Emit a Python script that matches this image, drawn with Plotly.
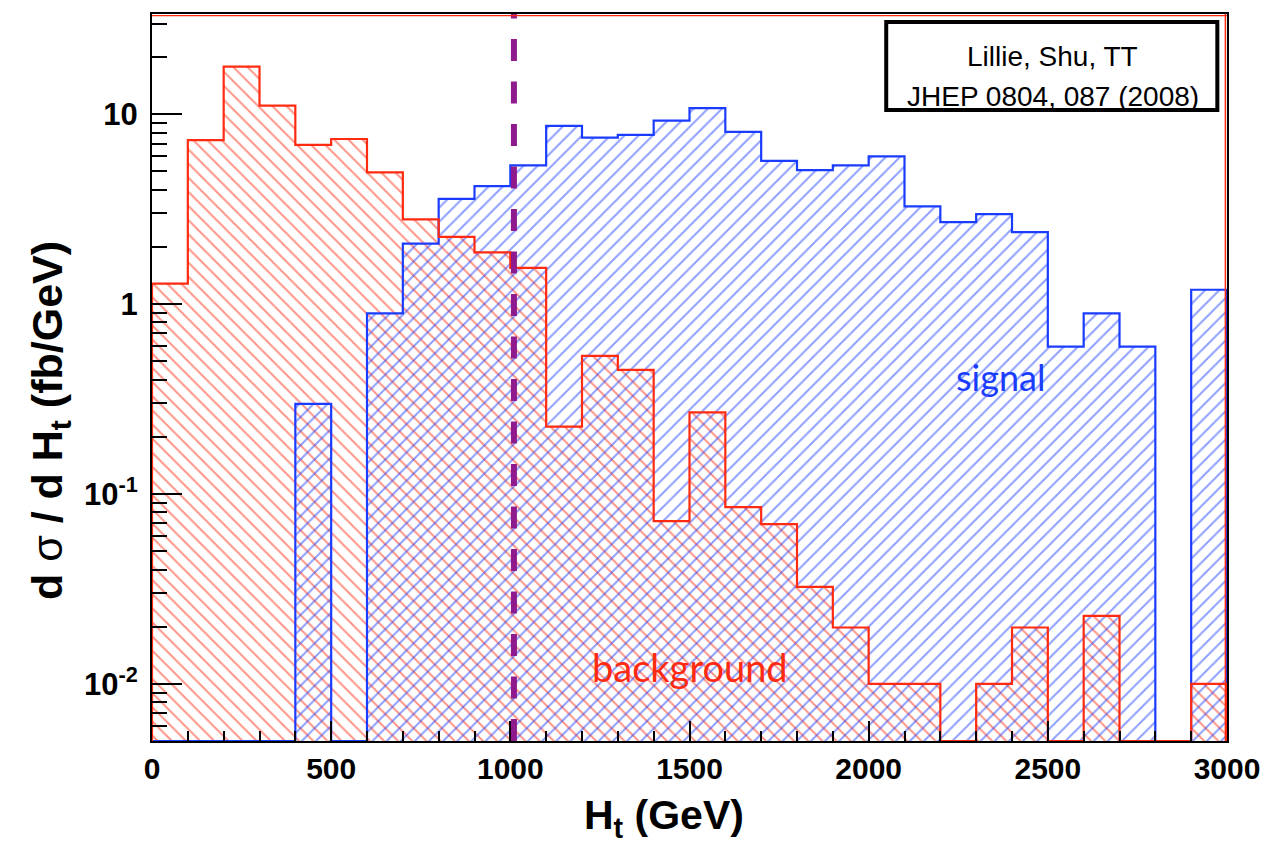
import math
import plotly.graph_objects as go

# H_t histogram, 100 GeV bins from 0 to 3000 GeV
bin_width = 100
bin_lo = list(range(0, 3000, bin_width))

background = [1.28, 7.3, 17.8, 11.1, 6.9, 7.4, 4.94, 2.79, 2.26, 1.87,
              1.55, 0.226, 0.533, 0.45, 0.072, 0.269, 0.0853, 0.0693, 0.0324, 0.0198,
              0.0100, 0.0100, 0, 0.0100, 0.0198, 0, 0.0228, 0, 0, 0.0100]
signal = [0, 0, 0, 0, 0.298, 0, 0.894, 2.08, 3.58, 4.18,
          5.38, 8.68, 7.53, 7.78, 9.25, 10.75, 8.07, 5.68, 5.07, 5.38,
          5.99, 3.27, 2.70, 2.98, 2.39, 0.597, 0.894, 0.597, 0, 1.19]

cut_ht = 1010
y_min, y_max = 0.005, 33.7

x_ticks = [0, 500, 1000, 1500, 2000, 2500, 3000]
y_ticks = [0.01, 0.1, 1, 10]
y_ticktext = ["10<sup>-2</sup>", "10<sup>-1</sup>", "1", "10"]

RED = "#ff2a10"
BLUE = "#1a3cff"
PURPLE = "#8e1a8e"
FONT = "Liberation Sans"


def outline(values):
    xs, ys = [bin_lo[0]], [y_min]
    for lo, v in zip(bin_lo, values):
        h = v if v > 0 else y_min
        xs += [lo, lo + bin_width]
        ys += [h, h]
    xs.append(bin_lo[-1] + bin_width)
    ys.append(y_min)
    return xs, ys


centers = [lo + bin_width / 2 for lo in bin_lo]
fig = go.Figure()

for vals, color, shape in [(background, RED, "\\"), (signal, BLUE, "/")]:
    fig.add_trace(go.Bar(
        x=centers, y=[v if v > 0 else None for v in vals], width=bin_width,
        marker=dict(color="rgba(0,0,0,0)", line=dict(width=0),
                    pattern=dict(shape=shape, fgcolor=color, bgcolor="rgba(0,0,0,0)",
                                 size=10, solidity=0.2)),
        hoverinfo="skip", showlegend=False))

for vals, color in [(signal, BLUE), (background, RED)]:
    xs, ys = outline(vals)
    fig.add_trace(go.Scatter(x=xs, y=ys, mode="lines", line=dict(color=color, width=2.2),
                             hoverinfo="skip", showlegend=False))

minor_y = [k * 10 ** d for d in range(-3, 2) for k in range(2, 10)
           if y_min <= k * 10 ** d <= y_max]

fig.update_layout(
    width=1266, height=842,
    margin=dict(l=152, r=39, t=14, b=101),
    paper_bgcolor="white", plot_bgcolor="white",
    barmode="overlay", bargap=0,
    font=dict(family=FONT, color="black"),
)
fig.update_xaxes(
    range=[0, 3000], showgrid=False, zeroline=False, automargin=False,
    ticklabeloverflow="allow",
    showline=True, linecolor="black", linewidth=2, mirror=True,
    tickmode="array", tickvals=x_ticks, ticks="inside", ticklen=20, tickwidth=2,
    tickcolor="black",
    tickfont=dict(family=FONT, size=30, weight="bold", color="black"),
    minor=dict(ticks="inside", dtick=100, ticklen=10, tickwidth=2, tickcolor="black"),
)
fig.update_yaxes(
    type="log", range=[math.log10(y_min), math.log10(y_max)],
    showgrid=False, zeroline=False, automargin=False,
    showline=True, linecolor="black", linewidth=2, mirror=True,
    tickmode="array", tickvals=y_ticks, ticktext=y_ticktext,
    ticks="inside", ticklen=30, tickwidth=2, tickcolor="black",
    ticklabelstandoff=6,
    tickfont=dict(family=FONT, size=31, weight="bold", color="black"),
    minor=dict(ticks="inside", tickvals=minor_y, ticklen=15, tickwidth=2, tickcolor="black"),
)

# cut line
fig.add_shape(type="line", xref="x", yref="paper", x0=cut_ht, x1=cut_ht, y0=0, y1=1,
              line=dict(color=PURPLE, width=6, dash="22px,20.5px"))
# thin red inner frame on top and right, as in the original
fig.add_shape(type="line", xref="paper", yref="paper", x0=0, x1=1, y0=0.9978, y1=0.9978,
              line=dict(color=RED, width=1.2))
fig.add_shape(type="line", xref="paper", yref="paper", x0=0.9985, x1=0.9985, y0=0, y1=1,
              line=dict(color=RED, width=1.5))

# reference box
fig.add_shape(type="rect", xref="paper", yref="paper", x0=0.683, x1=0.991, y0=0.868, y1=0.989,
              line=dict(color="black", width=4), fillcolor="white")
fig.add_annotation(xref="paper", yref="paper", x=0.838, y=0.941, xanchor="center",
                   yanchor="middle", text="Lillie, Shu, TT", showarrow=False,
                   font=dict(family=FONT, size=28, color="black"))
fig.add_annotation(xref="paper", yref="paper", x=0.838, y=0.887, xanchor="center",
                   yanchor="middle", text="JHEP 0804, 087 (2008)", showarrow=False,
                   font=dict(family=FONT, size=28, color="black"))

# labels in the plot
fig.add_annotation(x=2367, y=math.log10(0.413), text="signal", showarrow=False,
                   font=dict(family="Lato", size=36, color=BLUE))
fig.add_annotation(x=1502, y=math.log10(0.01225), text="background", showarrow=False,
                   font=dict(family="Lato", size=38, color=RED))

# axis titles
fig.add_annotation(xref="paper", yref="paper", x=0.476, y=-0.106, xanchor="center",
                   yanchor="middle", text="H<sub>t</sub> (GeV)", showarrow=False,
                   font=dict(family=FONT, size=41, weight="bold", color="black"))
fig.add_annotation(xref="paper", yref="paper", x=-0.0949, y=0.4415, xanchor="center",
                   yanchor="middle", textangle=-90,
                   text="d <span style='font-weight:normal'>σ</span> / d H<sub>t</sub> (fb/GeV)",
                   showarrow=False,
                   font=dict(family=FONT, size=43, weight="bold", color="black"))

fig.write_html("out.html", config={"displayModeBar": False},
               post_script="document.body.style.margin='0';")
